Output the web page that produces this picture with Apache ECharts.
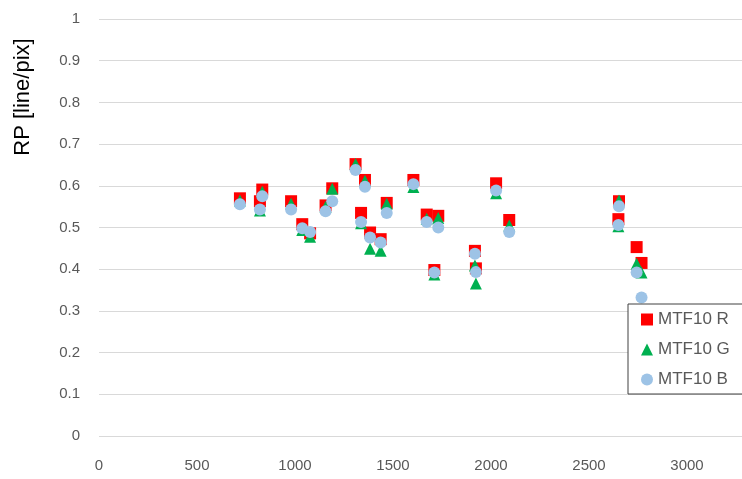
<!DOCTYPE html>
<html>
<head>
<meta charset="utf-8">
<script src="https://cdn.jsdelivr.net/npm/echarts@6/dist/echarts.min.js"></script>
<style>
html,body{margin:0;padding:0;background:#fff;}
#c{width:742px;height:479px;}
</style>
</head>
<body>
<div id="c"></div>
<script>
// X positions (shared by all three series)
var xValues = [719, 821, 833, 980, 1037, 1077, 1156, 1190, 1309, 1337, 1357, 1383, 1437, 1468, 1604, 1672, 1711, 1731, 1918, 1923, 2026, 2093, 2650, 2653, 2743, 2768];
var mtfR = [0.570, 0.563, 0.591, 0.563, 0.508, 0.486, 0.553, 0.594, 0.652, 0.535, 0.614, 0.488, 0.472, 0.559, 0.614, 0.531, 0.398, 0.528, 0.444, 0.402, 0.606, 0.518, 0.520, 0.563, 0.453, 0.415];
var mtfG = [0.565, 0.541, 0.586, 0.557, 0.494, 0.478, 0.549, 0.593, 0.652, 0.510, 0.612, 0.449, 0.444, 0.557, 0.597, 0.521, 0.387, 0.523, 0.409, 0.366, 0.582, 0.505, 0.503, 0.565, 0.413, 0.392];
var mtfB = [0.556, 0.543, 0.575, 0.543, 0.498, 0.489, 0.539, 0.563, 0.638, 0.513, 0.598, 0.476, 0.464, 0.535, 0.604, 0.513, 0.392, 0.500, 0.437, 0.393, 0.589, 0.489, 0.506, 0.551, 0.392, 0.332];
var seriesNames = ['MTF10 R', 'MTF10 G', 'MTF10 B'];
var yTitle = 'RP [line/pix]';

function pairs(ys){ return xValues.map(function(x,i){ return [x, ys[i]]; }); }

var chart = echarts.init(document.getElementById('c'));
var tickFont = 'Liberation Sans';
chart.setOption({
  animation: false,
  grid: {left: 99, top: 19, width: 686, height: 417, containLabel: false, outerBoundsMode: 'none'},
  xAxis: {
    type: 'value', min: 0, max: 3500, interval: 500,
    axisLine: {show: false}, axisTick: {show: false},
    splitLine: {show: false},
    axisLabel: {color: '#595959', fontSize: 15, fontFamily: tickFont, margin: 22,
      formatter: function(v){ return String(v); }}
  },
  yAxis: {
    type: 'value', min: 0, max: 1, interval: 0.1,
    axisLine: {show: false}, axisTick: {show: false},
    splitLine: {show: true, lineStyle: {color: '#D9D9D9', width: 1}},
    axisLabel: {color: '#595959', fontSize: 15, fontFamily: tickFont, margin: 19,
      formatter: function(v){ return String(Math.round(v*10)/10); }}
  },
  legend: {
    orient: 'vertical', left: 628, top: 304, width: 100,
    padding: [7, 20, 6, 13], itemGap: 13,
    backgroundColor: '#fff', borderColor: '#404040', borderWidth: 1, borderRadius: 0,
    itemWidth: 12, itemHeight: 12,
    textStyle: {color: '#595959', fontSize: 17, fontFamily: tickFont},
    data: [
      {name: seriesNames[0], icon: 'rect'},
      {name: seriesNames[1], icon: 'triangle'},
      {name: seriesNames[2], icon: 'circle'}
    ]
  },
  graphic: [{
    type: 'text', x: 23, y: 97, rotation: Math.PI/2,
    style: {text: yTitle, font: '22px "Liberation Sans"', fill: '#000', align: 'center', verticalAlign: 'middle'}
  }],
  series: [
    {name: seriesNames[0], type: 'scatter', symbol: 'rect', symbolSize: 12, data: pairs(mtfR), itemStyle: {color: '#FF0000', opacity: 1}},
    {name: seriesNames[1], type: 'scatter', symbol: 'triangle', symbolSize: 12, data: pairs(mtfG), itemStyle: {color: '#00B050', opacity: 1}},
    {name: seriesNames[2], type: 'scatter', symbol: 'circle', symbolSize: 12, data: pairs(mtfB), itemStyle: {color: '#9DC3E6', opacity: 1}}
  ]
});
</script>
</body>
</html>
